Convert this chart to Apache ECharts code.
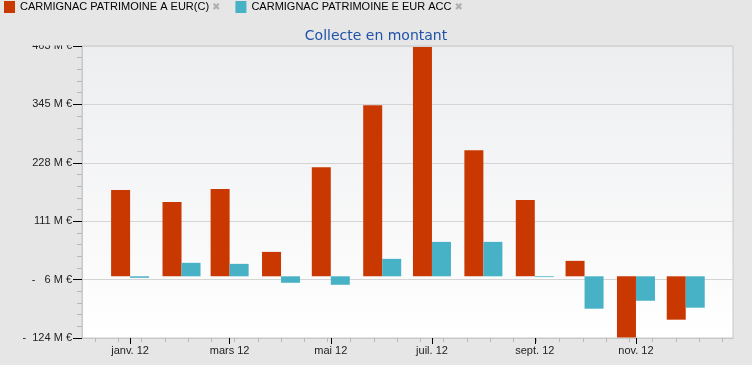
<!DOCTYPE html>
<html>
<head>
<meta charset="utf-8">
<script src="https://cdn.jsdelivr.net/npm/echarts@6/dist/echarts.min.js"></script>
<style>
  html, body { margin: 0; padding: 0; background: #e6e6e6; }
  #chart { width: 752px; height: 365px; }
</style>
</head>
<body>
<div id="chart"></div>
<script>
// ---- data ----
const months = ['2012-01-01','2012-02-01','2012-03-01','2012-04-01','2012-05-01','2012-06-01',
                '2012-07-01','2012-08-01','2012-09-01','2012-10-01','2012-11-01','2012-12-01'];
const seriesNames = ['CARMIGNAC PATRIMOINE A EUR(C)', 'CARMIGNAC PATRIMOINE E EUR ACC'];
const valuesA = [173.4, 149.3, 175.4, 49.1, 219.5, 343.8, 461, 253.6, 153.3, 31.1, -123, -87.2];
const valuesE = [-3, 27.1, 25, -13, -17, 35.1, 69.2, 69.2, -1.5, -65.1, -49.1, -63.1];
const yTickLabels = ['-  124 M €', '-   6 M €', '111 M €', '228 M €', '345 M €', '463 M €'];
const xTickDates = ['2012-01-01','2012-03-01','2012-05-01','2012-07-01','2012-09-01','2012-11-01'];
const xTickLabels = ['janv. 12','mars 12','mai 12','juil. 12','sept. 12','nov. 12'];
const title = 'Collecte en montant';

// ---- helpers ----
const ts = s => { const p = s.split('-').map(Number); return Date.UTC(p[0], p[1]-1, p[2]); };
const DAY = 86400000;
const xMin = ts('2011-12-03');
const xMax = ts('2012-12-29') + DAY/2;
const yMin = -124, yMax = 463, yInterval = (yMax - yMin) / 5;
const minorTicks = [];
for (let t = ts('2011-12-11'); t < xMax; t += 14*DAY) minorTicks.push(t);
const majorTicks = xTickDates.map(ts);

const chart = echarts.init(document.getElementById('chart'));
chart.setOption({
  animation: false,
  backgroundColor: '#e6e6e6',
  textStyle: { fontFamily: 'Liberation Sans, Arial, sans-serif' },
  title: {
    text: title, left: 'center', top: 29, padding: 0,
    textStyle: { fontFamily: 'DejaVu Sans', fontSize: 14, fontWeight: 'normal', color: '#1f52a8' }
  },
  legend: {
    left: 4, top: 1, padding: 0, itemGap: 15, itemWidth: 11, itemHeight: 12, icon: 'rect',
    selectedMode: false,
    formatter: n => '{n|' + n + '}{x|✖}',
    textStyle: {
      rich: {
        n: { fontFamily: 'Liberation Sans, Arial', fontSize: 11, color: '#000' },
        x: { fontFamily: 'DejaVu Sans', fontSize: 10, color: '#b0b0b0', padding: [0, 0, 0, 3] }
      }
    }
  },
  grid: {
    left: 82, right: 19, top: 46, bottom: 27, show: true,
    borderColor: '#c8c8c8', borderWidth: 1,
    backgroundColor: new echarts.graphic.LinearGradient(0, 0, 0, 1, [
      { offset: 0, color: '#edeef0' }, { offset: 1, color: '#ffffff' }
    ])
  },
  xAxis: [{
    type: 'value', min: xMin, max: xMax, scale: true, position: 'bottom',
    axisLine: { show: true, onZero: false, lineStyle: { color: '#c8c8c8' } },
    axisTick: { show: true, customValues: majorTicks, length: 6, lineStyle: { color: '#000' } },
    axisLabel: {
      customValues: majorTicks, margin: 7, fontSize: 11, color: '#222', hideOverlap: false,
      formatter: v => { const i = majorTicks.indexOf(v); return i >= 0 ? xTickLabels[i] : ''; }
    },
    splitLine: { show: false }
  }, {
    type: 'value', min: xMin, max: xMax, scale: true, position: 'bottom',
    axisLine: { show: false, onZero: false },
    axisTick: { show: true, customValues: minorTicks, length: 4, lineStyle: { color: '#b8b8b8' } },
    axisLabel: { show: false },
    splitLine: { show: false }
  }],
  yAxis: {
    type: 'value', min: yMin, max: yMax, interval: yInterval,
    axisLine: { show: true, lineStyle: { color: '#c8c8c8' } },
    axisTick: { show: true, length: 9, lineStyle: { color: '#000' } },
    minorTick: { show: true, splitNumber: 5, length: 5, lineStyle: { color: '#b8b8b8' } },
    axisLabel: {
      margin: 10, fontSize: 11, color: '#222',
      formatter: v => yTickLabels[Math.round((v - yMin) / yInterval)] || ''
    },
    splitLine: { show: true, lineStyle: { color: '#d4d4d4' } }
  },
  graphic: [{
    type: 'rect', left: 0, top: 20, z: 2,
    shape: { width: 81, height: 25.5 },
    style: { fill: '#e6e6e6' }
  }],
  series: [{
    name: seriesNames[0], type: 'bar', xAxisIndex: 0, barWidth: 19, barGap: '0%',
    itemStyle: { color: '#c93800' },
    data: months.map((m, i) => [ts(m), valuesA[i]])
  }, {
    name: seriesNames[1], type: 'bar', xAxisIndex: 0, barWidth: 19, barGap: '0%',
    itemStyle: { color: '#47b1c5' },
    data: months.map((m, i) => [ts(m), valuesE[i]])
  }]
});
</script>
</body>
</html>
